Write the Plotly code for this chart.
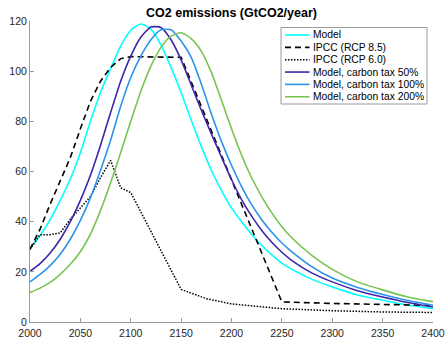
import plotly.graph_objects as go

# Years shared by the model runs
years = [2000, 2010, 2020, 2030, 2040, 2050, 2060, 2070, 2080, 2090,
         2100, 2110, 2120, 2130, 2140, 2150, 2160, 2170, 2180, 2190,
         2200, 2210, 2220, 2230, 2240, 2250, 2260, 2280, 2300, 2325,
         2350, 2375, 2400]

model = [29.2, 34.5, 40.8, 48.5, 57.0, 67.5, 80.0, 91.5, 101.0, 110.0,
         116.3, 118.8, 116.8, 110.5, 101.5, 91.5, 80.5, 70.0, 60.5, 52.5,
         45.5, 40.0, 35.0, 30.5, 26.8, 23.5, 21.0, 17.0, 14.0, 10.8,
         8.7, 6.8, 5.3]

tax50 = [20.2, 23.3, 27.5, 33.0, 40.0, 48.5, 58.5, 70.5, 83.5, 96.0,
         106.0, 113.5, 117.6, 117.4, 112.5, 104.5, 94.5, 84.5, 75.0, 65.8,
         56.8, 48.8, 42.2, 36.5, 31.8, 27.8, 24.5, 19.5, 16.0, 12.5,
         10.0, 7.8, 6.0]

tax100 = [16.0, 19.0, 22.5, 27.0, 33.0, 40.5, 49.5, 60.5, 72.5, 86.0,
          97.5, 106.0, 112.5, 116.5, 116.5, 112.0, 105.5, 95.0, 83.0, 72.0,
          62.5, 54.0, 46.8, 40.8, 35.8, 31.5, 28.0, 22.0, 17.5, 13.8,
          11.0, 8.6, 6.7]

tax200 = [11.8, 13.5, 15.8, 19.0, 23.0, 28.0, 35.0, 44.5, 55.5, 67.5,
          80.0, 92.0, 102.0, 109.5, 114.0, 115.3, 113.0, 108.0, 99.5, 88.5,
          77.0, 66.5, 57.5, 50.0, 43.5, 38.0, 33.5, 26.5, 21.0, 16.0,
          12.8, 10.0, 8.1]

# IPCC scenarios
rcp85_years = [2000, 2010, 2020, 2030, 2040, 2050, 2060, 2070, 2080, 2090,
               2100, 2150, 2250, 2300, 2350, 2400]
rcp85 = [29.0, 37.0, 47.0, 56.5, 65.5, 77.0, 88.0, 96.0, 101.5, 105.0,
         105.8, 105.5, 8.0, 7.4, 7.0, 6.6]

rcp60_years = [2000, 2010, 2020, 2030, 2040, 2050, 2060, 2070, 2080, 2090,
               2100, 2150, 2175, 2200, 2250, 2300, 2350, 2400]
rcp60 = [29.0, 34.8, 34.8, 35.5, 41.0, 45.5, 50.0, 57.5, 64.4, 53.5,
         51.6, 13.0, 9.3, 7.2, 5.3, 4.5, 4.0, 3.8]

x_ticks = [2000, 2050, 2100, 2150, 2200, 2250, 2300, 2350, 2400]
y_ticks = [0, 20, 40, 60, 80, 100, 120]

FONT = "Liberation Sans, Arial, Helvetica, sans-serif"
AXIS_GREY = "#9a9a9a"
TEXT = "#262626"

# name, colour, width, dash, x, y
series = [
    ("Model", "#00ffff", 1.6, "solid", years, model),
    ("IPCC (RCP 8.5)", "black", 1.6, "6px,4px", rcp85_years, rcp85),
    ("IPCC (RCP 6.0)", "black", 1.5, "1.5px,1.5px", rcp60_years, rcp60),
    ("Model, carbon tax 50%", "#3e26a8", 1.6, "solid", years, tax50),
    ("Model, carbon tax 100%", "#2b93e8", 1.6, "solid", years, tax100),
    ("Model, carbon tax 200%", "#78c450", 1.6, "solid", years, tax200),
]

fig = go.Figure()
for name, color, width, dash, xs, ys in series:
    smooth = dash == "solid"
    fig.add_trace(go.Scatter(
        x=xs, y=ys, mode="lines", name=name, showlegend=False,
        line=dict(color=color, width=width, dash=dash,
                  shape="spline" if smooth else "linear",
                  smoothing=0.6 if smooth else None)))

# Compact boxed legend in the upper right of the axes (paper coordinates)
W, H = 446, 337
L, R, T, B = 30, 13, 21, 15
pw, ph = W - L - R, H - T - B


def px_x(px):
    return (px - L) / pw


def px_y(py):
    return (H - B - py) / ph


box = dict(x0=281, x1=427, y0=27.5, y1=104)
fig.add_shape(type="rect", xref="paper", yref="paper",
              x0=px_x(box["x0"]), x1=px_x(box["x1"]),
              y0=px_y(box["y1"]), y1=px_y(box["y0"]),
              line=dict(color=AXIS_GREY, width=1), fillcolor="white", layer="above")
row0, row_step = 35.0, 12.35
for i, (name, color, width, dash, _, _) in enumerate(series):
    yy = px_y(row0 + i * row_step)
    fig.add_shape(type="line", xref="paper", yref="paper",
                  x0=px_x(285), x1=px_x(309.5), y0=yy, y1=yy,
                  line=dict(color=color, width=width, dash=dash), layer="above")
    fig.add_annotation(text=name, xref="paper", yref="paper", x=px_x(311), y=yy,
                       xanchor="left", yanchor="middle", showarrow=False,
                       font=dict(family=FONT, size=10.3, color="black"))

fig.update_layout(
    width=W, height=H,
    margin=dict(l=L, r=R, t=T, b=B, autoexpand=False),
    paper_bgcolor="white", plot_bgcolor="white",
    font=dict(family=FONT, size=10.5, color=TEXT),
    title=dict(text="<b>CO2 emissions (GtCO2/year)</b>", x=0.5, xref="paper",
               xanchor="center", y=1 - 13 / H, yref="container", yanchor="middle",
               font=dict(family=FONT, size=12.5, color="black")),
    showlegend=False,
)
fig.update_xaxes(range=[2000, 2400], tickvals=x_ticks, ticks="inside", ticklen=4,
                 tickcolor=AXIS_GREY, showline=True, linecolor=AXIS_GREY, linewidth=1,
                 showgrid=False, zeroline=False, automargin=False, ticklabelstandoff=1,
                 tickfont=dict(family=FONT, size=10.5, color=TEXT))
fig.update_yaxes(range=[0, 120], tickvals=y_ticks, ticks="inside", ticklen=4,
                 tickcolor=AXIS_GREY, showline=True, linecolor=AXIS_GREY, linewidth=1,
                 showgrid=False, zeroline=False, automargin=False,
                 tickfont=dict(family=FONT, size=10.5, color=TEXT))

fig.write_html("out.html")
